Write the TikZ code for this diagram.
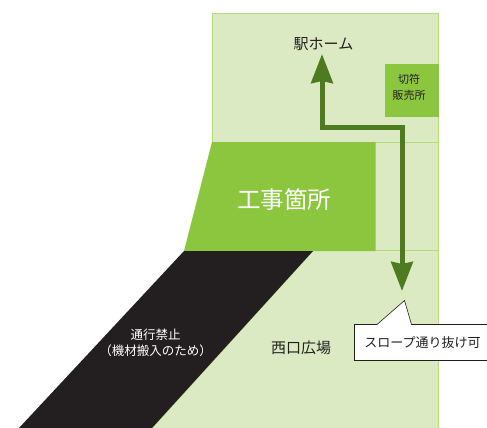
\documentclass[tikz,border=0pt]{standalone}
\usepackage{fontspec}
\setmainfont{Noto Sans CJK JP}
\usetikzlibrary{arrows.meta}
\definecolor{lightg}{HTML}{DBEAC3}
\definecolor{edgeg}{HTML}{B2DC78}
\definecolor{midg}{HTML}{8CC63F}
\definecolor{darkg}{HTML}{4E7A20}
\definecolor{blk}{HTML}{231F20}
\tikzset{
  work/.style={fill=midg},
  lab/.style={text=blk,inner sep=0pt,align=center},
  route/.style={draw=darkg,line width=5pt,line join=miter,{Stealth[length=29pt,width=21.5pt,inset=2pt]}-{Stealth[length=29pt,width=21.5pt,inset=2pt]}},
  callout/.style={fill=white,draw=blk,line width=0.6pt,line join=miter}
}
\begin{document}
\begin{tikzpicture}[x=1pt,y=-1pt]
\useasboundingbox (0,0) rectangle (487,428);
% zones
\fill[lightg] (212,14) rectangle (438.5,142.5);
\fill[lightg] (212,142.5) rectangle (438.5,250.5);
\fill[lightg] (313,250.5) -- (438.5,250.5) -- (438.5,428) -- (152,428) -- cycle;
\draw[edgeg,line width=1pt] (212,142.5) -- (212,14) -- (438.5,14) -- (438.5,428);
\draw[edgeg,line width=1pt] (212,142.5) -- (438.5,142.5);
\draw[edgeg,line width=1pt] (184,250.5) -- (438.5,250.5);
\draw[edgeg,line width=1pt] (313,250.5) -- (152,428);
% works area
\fill[work] (212,142) -- (375.5,142) -- (375.5,251) -- (184,251) -- cycle;
\fill[blk] (184,251) -- (313,251) -- (152,428) -- (19,428) -- cycle;
\fill[work] (385,64) rectangle (438.5,116.5);
% labels
\node[lab,font=\fontsize{15}{15}\selectfont] (home) at (323.5,44) {駅ホーム};
\node[lab,font=\fontsize{11}{16}\selectfont] (ticket) at (409,87.5) {切符\\販売所};
\node[lab,text=white,font=\fontsize{23.5}{24}\selectfont] (work) at (284,199.5) {工事箇所};
\node[lab,text=white,font=\fontsize{12.5}{16}\selectfont] (closed) at (155.5,343) {通行禁止\\（機材搬入のため）};
\node[lab,font=\fontsize{15}{15}\selectfont] (plaza) at (301,348) {西口広場};
% route
\coordinate (routeStart) at (402,291);
\coordinate (routeEnd) at (322,54);
\coordinate (turnA) at (402,127);
\coordinate (turnB) at (322,127);
\draw[route] (routeEnd) -- (turnB) -- (turnA) -- (routeStart);
% callout
\draw[callout] (487,324.5) -- (411.5,324.5) -- (404.5,300.5) -- (377,324.5) -- (354.5,324.5) -- (354.5,360.5) -- (487,360.5);
\node[lab,font=\fontsize{13}{13}\selectfont] (slope) at (422.5,343) {スロープ通り抜け可};
\end{tikzpicture}
\end{document}
